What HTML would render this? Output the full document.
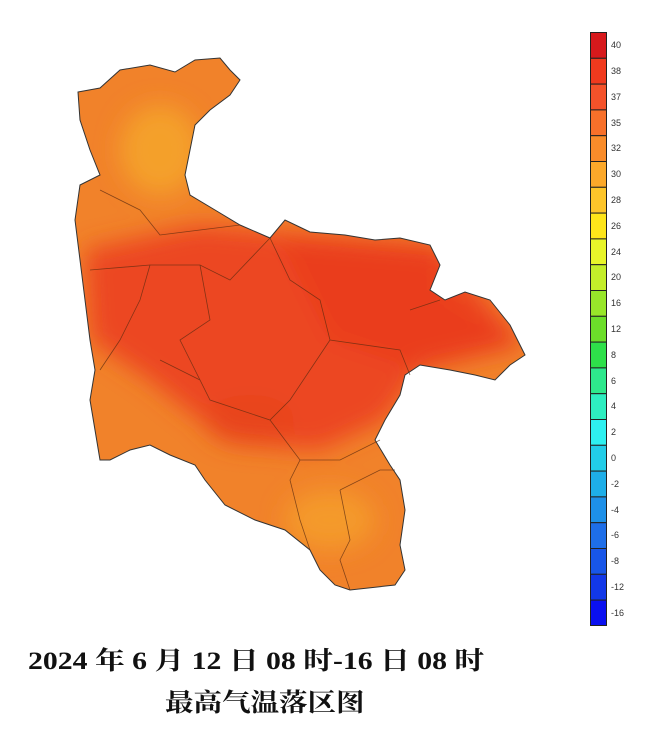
<!DOCTYPE html>
<html><head><meta charset="utf-8"><style>
body{margin:0;background:#fff;width:651px;height:739px;overflow:hidden;position:relative;font-family:"Liberation Serif","Noto Serif CJK SC",serif}
.t{position:absolute;font-size:25px;color:#111;font-weight:bold;white-space:nowrap;transform-origin:0 0}
</style></head><body>
<svg width="651" height="739" style="position:absolute;left:0;top:0">
<defs><clipPath id="c"><polygon id="pp" points="78,92 100,88 120,70 150,65 175,72 195,60 220,58 230,70 240,80 230,95 210,110 195,125 190,150 185,175 190,195 215,210 240,225 270,238 285,220 310,232 345,235 375,240 400,238 430,245 440,265 430,290 445,300 465,292 490,300 510,325 525,355 510,365 495,380 475,375 450,370 420,365 405,375 400,395 385,420 375,440 390,465 400,480 405,510 400,545 405,570 395,585 350,590 335,585 320,570 310,550 285,530 255,520 225,505 205,480 195,465 170,455 150,445 130,450 110,460 100,460 95,430 90,400 95,370 90,340 85,300 80,260 75,220 80,185 100,175 90,150 80,120"/></clipPath>
<filter id="b"><feGaussianBlur stdDeviation="12"/></filter></defs>
<g clip-path="url(#c)">
<rect x="60" y="50" width="480" height="560" fill="#f1822a"/>
<g filter="url(#b)">
<ellipse cx="160" cy="150" rx="40" ry="45" fill="#f4a02a"/>
<ellipse cx="330" cy="520" rx="45" ry="30" fill="#f49a2a"/>
<polygon points="85,250 200,225 280,232 440,245 525,345 420,370 385,420 320,450 250,445 200,420 150,380 90,340" fill="#ec4620"/>
<polygon points="280,238 440,245 440,290 520,340 420,370 330,340" fill="#ea3e1c"/>
<ellipse cx="250" cy="420" rx="45" ry="25" fill="#e8441e"/>
</g>
</g>
<use href="#pp" fill="none" stroke="#333" stroke-width="1"/>
<g fill="none" stroke="#5a2a10" stroke-width="0.8" opacity="0.7">
<path d="M100,190 140,210 160,235 200,230 240,225"/>
<path d="M90,270 150,265 200,265 230,280 270,238"/>
<path d="M270,238 290,280 320,300 330,340 400,350 410,375"/>
<path d="M410,310 440,300"/>
<path d="M150,265 140,300 120,340 100,370"/>
<path d="M200,265 210,320 180,340 200,380 210,400 240,410 270,420 290,400 310,370 330,340"/>
<path d="M270,420 300,460 290,480 300,520 310,550"/>
<path d="M300,460 340,460 380,440"/>
<path d="M340,490 350,540 340,560 350,590"/>
<path d="M340,490 380,470 395,470"/>
<path d="M160,360 200,380"/>
</g>
<g stroke="#222" stroke-width="1">
<rect x="590.5" y="32.5" width="16" height="25.8" fill="#d7191c"/>
<rect x="590.5" y="58.3" width="16" height="25.8" fill="#f03a1e"/>
<rect x="590.5" y="84.1" width="16" height="25.8" fill="#f4522a"/>
<rect x="590.5" y="109.9" width="16" height="25.8" fill="#f7702a"/>
<rect x="590.5" y="135.7" width="16" height="25.8" fill="#f98c2a"/>
<rect x="590.5" y="161.5" width="16" height="25.8" fill="#fba82a"/>
<rect x="590.5" y="187.3" width="16" height="25.8" fill="#fdc52a"/>
<rect x="590.5" y="213.1" width="16" height="25.8" fill="#fee51a"/>
<rect x="590.5" y="238.9" width="16" height="25.8" fill="#e8f52a"/>
<rect x="590.5" y="264.7" width="16" height="25.8" fill="#c4ee2a"/>
<rect x="590.5" y="290.5" width="16" height="25.8" fill="#98e62a"/>
<rect x="590.5" y="316.3" width="16" height="25.8" fill="#6cde2a"/>
<rect x="590.5" y="342.1" width="16" height="25.8" fill="#2ee04a"/>
<rect x="590.5" y="367.9" width="16" height="25.8" fill="#2ee88c"/>
<rect x="590.5" y="393.7" width="16" height="25.8" fill="#2eeec0"/>
<rect x="590.5" y="419.5" width="16" height="25.8" fill="#2ef0f0"/>
<rect x="590.5" y="445.3" width="16" height="25.8" fill="#22cde8"/>
<rect x="590.5" y="471.1" width="16" height="25.8" fill="#1eaee8"/>
<rect x="590.5" y="496.9" width="16" height="25.8" fill="#1e90e8"/>
<rect x="590.5" y="522.7" width="16" height="25.8" fill="#1e6ee8"/>
<rect x="590.5" y="548.5" width="16" height="25.8" fill="#1856e8"/>
<rect x="590.5" y="574.3" width="16" height="25.8" fill="#1238e8"/>
<rect x="590.5" y="600.1" width="16" height="25.4" fill="#0a10f0"/>
</g>
<g font-family="Liberation Sans,sans-serif" font-size="9" fill="#333">
<text x="611" y="48">40</text><text x="611" y="74">38</text><text x="611" y="100">37</text><text x="611" y="126">35</text><text x="611" y="151">32</text><text x="611" y="177">30</text><text x="611" y="203">28</text><text x="611" y="229">26</text><text x="611" y="255">24</text><text x="611" y="280">20</text><text x="611" y="306">16</text><text x="611" y="332">12</text><text x="611" y="358">8</text><text x="611" y="384">6</text><text x="611" y="409">4</text><text x="611" y="435">2</text><text x="611" y="461">0</text><text x="611" y="487">-2</text><text x="611" y="513">-4</text><text x="611" y="538">-6</text><text x="611" y="564">-8</text><text x="611" y="590">-12</text><text x="611" y="616">-16</text>
</g>
</svg>
<div class="t" style="top:641px;left:28px;transform:scaleX(1.19)">2024 年 6 月 12 日 08 时-16 日 08 时</div>
<div class="t" style="top:683px;left:165px;transform:scaleX(1.14)">最高气温落区图</div>
</body></html>
